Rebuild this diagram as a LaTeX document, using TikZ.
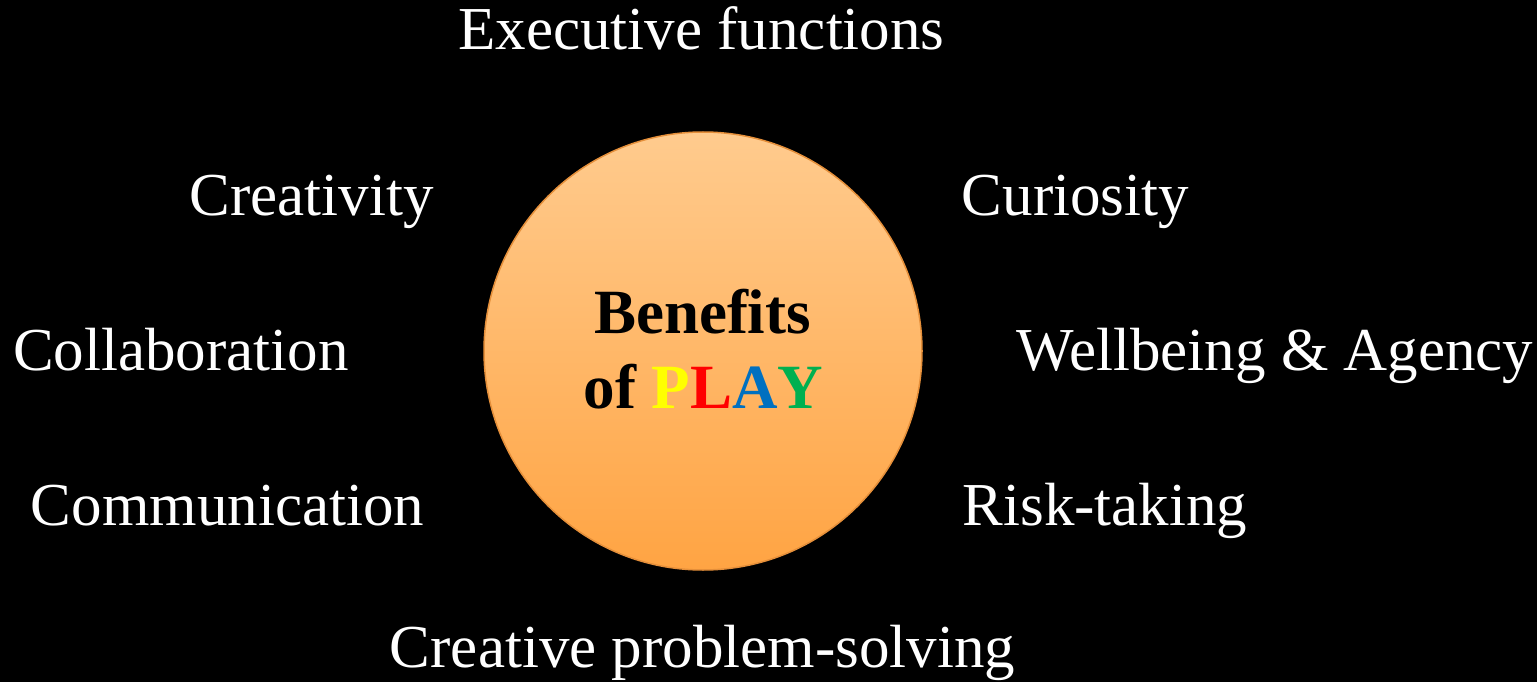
\documentclass[tikz,border=0pt]{standalone}
\usepackage{fontspec}
\setmainfont{Liberation Serif}
\definecolor{playyellow}{HTML}{FFFF00}
\definecolor{playred}{HTML}{FF0000}
\definecolor{playblue}{HTML}{0070C0}
\definecolor{playgreen}{HTML}{00B050}
\definecolor{orangetop}{HTML}{FFCB8E}
\definecolor{orangebot}{HTML}{FFA443}
\definecolor{orangeedge}{HTML}{E58F3A}
\tikzset{
  label/.style={text=white, inner sep=0pt, anchor=base, font=\fontsize{61}{72}\selectfont},
  centre/.style={circle, minimum size=438pt, inner sep=0pt, top color=orangetop, bottom color=orangebot, draw=orangeedge, line width=1.5pt},
  title/.style={inner sep=0pt, anchor=base, font=\bfseries\fontsize{63}{72}\selectfont, text=black}
}
\begin{document}
\begin{tikzpicture}[x=1pt,y=-1pt]
\fill[black] (0,0) rectangle (1537,682);
\useasboundingbox (0,0) rectangle (1537,682);
\node[centre] (c) at (703,351) {};
\node[title] (t1) at (702.5,333) {Benefits};
\node[title] (t2) at (703.5,408) {of \textcolor{playyellow}{P}\textcolor{playred}{L}\textcolor{playblue}{A}\textcolor{playgreen}{Y}};
\node[label] (exec) at (701.5,50) {Executive functions};
\node[label] (crea) at (311.5,215) {Creativity};
\node[label] (curi) at (1075.5,215) {Curiosity};
\node[label] (coll) at (181,370) {Collaboration};
\node[label] (well) at (1275,370) {Wellbeing \& Agency};
\node[label] (comm) at (227.5,525) {Communication};
\node[label] (risk) at (1105,525) {Risk-taking};
\node[label] (prob) at (702.5,667) {Creative problem-solving};
\end{tikzpicture}
\end{document}
